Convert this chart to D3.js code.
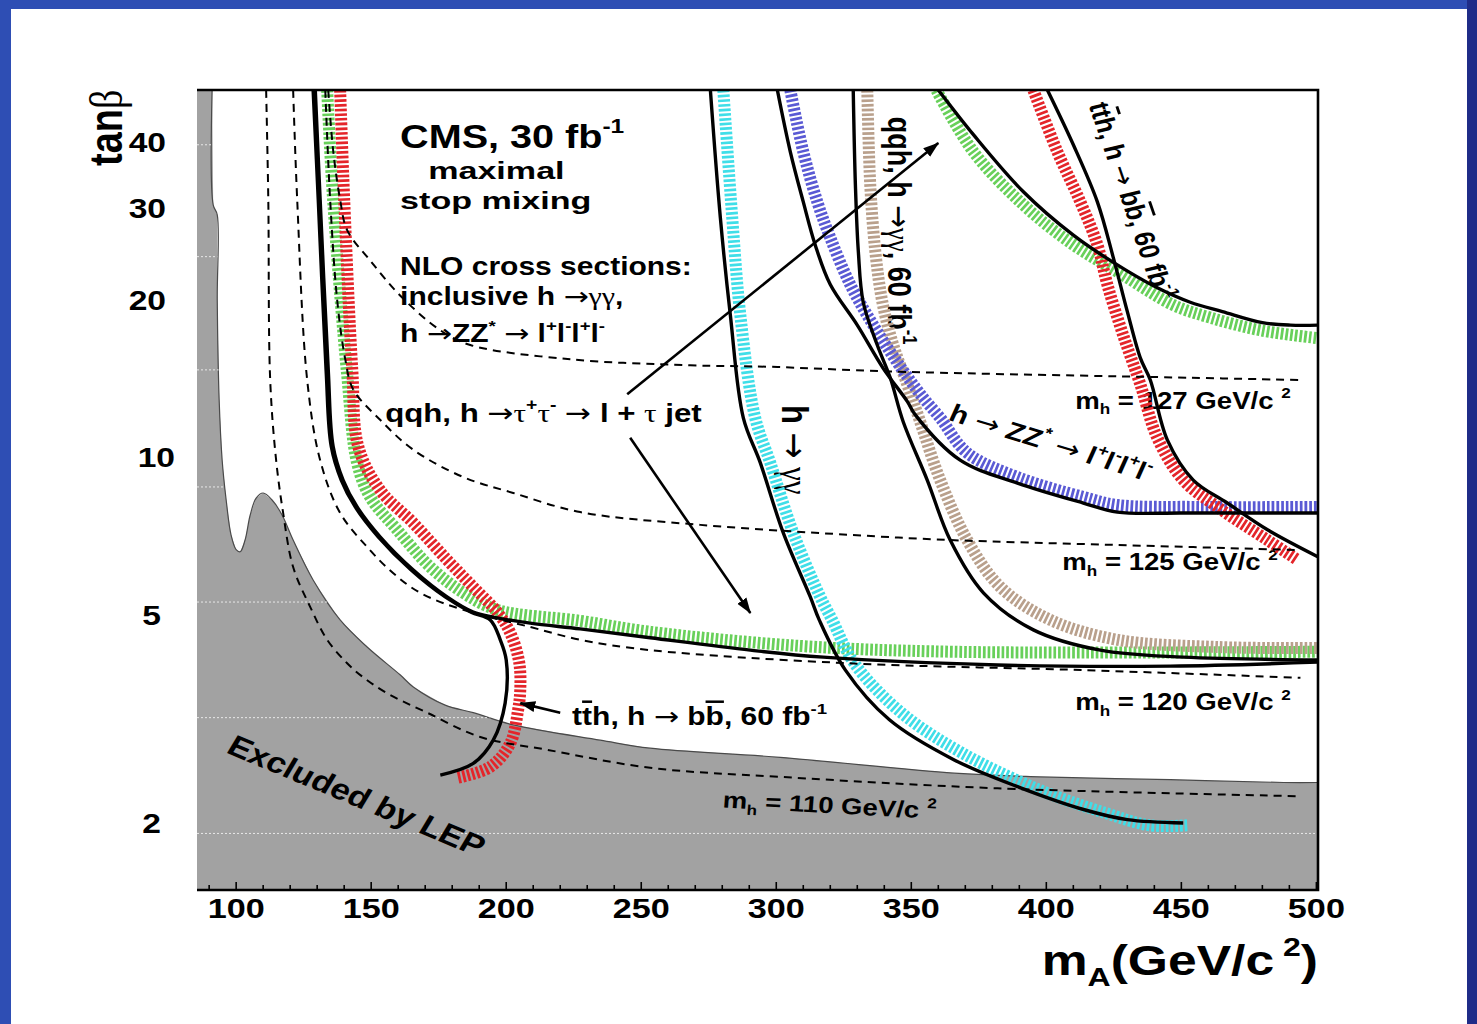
<!DOCTYPE html>
<html><head><meta charset="utf-8">
<script src="https://cdn.jsdelivr.net/npm/d3@7"></script>
<style>html,body{margin:0;padding:0;background:#2d4db2;}svg{display:block}</style>
</head><body>
<svg id="chart" width="1477" height="1024"></svg>
<script>
// ---------------- data (mA in GeV/c^2, tan beta) ----------------
const xTicks = [100,150,200,250,300,350,400,450,500];
const xMinorTicks = d3.range(90, 501, 10);
const yTicks = [2,5,10,20,30,40];
const lepGridTB = [39.6,24.2,14.7,8.78,5.29,3.18,1.91];

// LEP excluded region boundary
const lepMA = [91.1,91.5,93.0,93.0,93.7,94.8,96.3,98.1,100,101.5,103.3,105.2,107.4,110,113.3,117.0,121.1,128.5,138.5,148.5,160.7,165.6,177.4,187.8,202.6,234.8,253.3,301.5,365.9,397.8,445.9,487.8,500.7];
const lepTB = [50.4,30.4,29.1,20,12.9,9.9,8.29,7.11,6.66,6.60,6.95,7.76,8.36,8.55,8.29,7.76,6.95,5.83,4.89,4.34,3.84,3.64,3.36,3.25,3.08,2.88,2.78,2.67,2.49,2.45,2.42,2.39,2.39];

// m_h iso-contours (dashed)
const mh110MA = [111.1,111.9,112.6,114.8,117.4,121.1,127.4,133.7,141.1,147.0,155.9,170.7,190.4,215.2,253.3,301.5,381.9,494.1];
const mh110TB = [50.4,31.1,14.06,9.88,7.83,6.17,5.18,4.48,4.04,3.80,3.54,3.25,2.92,2.76,2.55,2.45,2.33,2.25];
const mh120MA = [121.1,122.6,126.3,131.1,138.5,148.5,158.1,168.1,184.1,208.9,227.4,253.3,327.0,414.1,494.1];
const mh120TB = [50.4,31.1,14.06,9.88,7.83,6.74,6.01,5.51,5.11,4.74,4.48,4.28,4.04,3.92,3.79];
const mh125MA = [133.0,134.8,137.4,140.4,143.3,153.3,165.6,184.1,202.6,227.4,271.9,327.4,364.4,426.3,494.1];
const mh125TB = [50.4,31.1,20,15.4,13.5,11.8,10.34,9.17,8.55,7.86,7.43,7.11,6.95,6.80,6.65];
const mh127MA = [134.1,135.9,138.5,141.1,149.6,160.7,175.6,186.7,223.7,268.1,297.8,342.2,453.3,493.7];
const mh127TB = [50.4,38.7,31.1,27.2,23.8,20.4,17.5,16.4,15.4,15.0,14.9,14.6,14.2,14.06];

// discovery contours: hatched bands and solid lines
const cyanMA = [280.4,283.7,286.7,292.2,297.8,306.3,316.3,320.7,328.9,346.3,368.9,397.8,421.9,438.1,452.6];
const cyanTB = [50.4,28.7,18.7,11.9,9.76,7.17,5.41,4.89,4.04,3.25,2.72,2.31,2.09,1.98,1.98];
const cyanLineMA = [275.6,279.3,283.0,287.8,294.1,302.6,312.6,315.9,325.6,341.9,365.9,390.0,414.1,430.0,450.7];
const cyanLineTB = [50.4,28.7,18.7,11.9,9.76,7.17,5.41,4.89,3.92,3.15,2.64,2.34,2.12,2.03,2.00];

const blueMA = [305.2,310.0,315.2,320.0,327.4,335.9,344.8,354.4,360.7,370.7,389.3,413.7,426.3,457.0,500.7];
const blueTB = [50.4,38.4,30.8,26.3,21.4,17.9,15.2,13.0,11.9,10.2,9.17,8.40,8.11,8.04,8.04];
const blueLineMA = [300.4,305.2,310.0,314.4,320.0,330.0,339.6,348.5,351.5,368.1,389.3,413.7,426.3,450.7,500.7];
const blueLineTB = [50.4,38.4,30.8,25.5,21.4,17.9,14.8,12.8,12.06,9.88,8.93,8.18,7.86,7.83,7.83];

const brownMA = [333.7,334.8,336.7,339.3,343.3,348.5,353.3,360.7,370.7,383.0,401.5,426.3,463.3,500.7];
const brownTB = [50.4,33.2,24.7,19.8,16.4,13.8,11.7,9.05,6.95,5.65,4.89,4.48,4.34,4.32];
const brownLineMA = [328.5,329.3,330.4,332.2,337.4,342.2,347.0,355.9,364.4,376.7,395.2,420.0,450.7,500.7];
const brownLineTB = [50.4,33.2,24.7,19.8,16.4,14.2,11.7,9.05,6.95,5.51,4.68,4.28,4.15,4.10];

const greenUpMA = [359.3,373.0,391.5,410.0,428.5,447.0,460.7,479.3,500.7];
const greenUpTB = [50.4,38.4,30.4,25.5,22.3,19.56,18.5,17.5,16.9];
const greenUpLineMA = [360.0,373.0,391.5,410.0,424.8,441.1,453.3,465.2,480.0,490.4,500.7];
const greenUpLineTB = [50.4,41.4,32.2,26.6,23.6,21.1,19.8,19.0,18.1,17.9,17.9];

const redUpMA = [395.2,404.1,412.6,418.9,422.6,428.5,434.8,441.1,450.7,463.3,481.9,493.0];
const redUpTB = [50.4,38.4,30.8,25.5,21.4,17.1,13.8,10.9,9.05,8.04,6.95,6.37];
const redUpLineMA = [400.4,410.0,418.9,424.8,430.0,434.8,438.5,444.8,454.4,467.0,481.9,500.7];
const redUpLineTB = [50.4,39.6,30.8,24.1,19.0,15.5,14.06,10.8,9.05,8.18,7.27,6.45];

const greenLowMA = [133.7,135.9,141.1,144.8,149.6,159.6,171.9,184.1,196.7,227.4,253.3,308.9,365.9,500.7];
const greenLowTB = [50.4,31.1,14.4,9.76,8.40,7.27,6.17,5.51,5.11,4.87,4.64,4.36,4.25,4.25];
const greenLowLineMA = [129.3,131.1,134.1,135.9,139.6,144.8,153.3,165.6,178.1,187.8,195.2,208.9,227.4,253.3,290.4,317.4,381.9,445.9,500.7];
const greenLowLineTB = [50.4,31.1,14.7,10.5,9.05,8.04,7.05,6.09,5.41,5.06,4.95,4.82,4.70,4.52,4.28,4.15,4.01,3.99,4.06];

const redLowMA = [138.5,140.0,143.0,145.2,153.3,165.6,178.1,187.8,196.7,201.5,204.8,205.2,204.4,201.5,194.1,181.9];
const redLowTB = [50.4,31.1,14.7,10.5,8.66,7.49,6.37,5.65,5.06,4.62,4.06,3.59,3.29,2.84,2.56,2.44];
const redLowLineMA = [128.5,130.4,133.3,135.2,138.9,144.1,152.6,164.8,177.4,187.0,194.1,197.8,200.0,199.6,195.2,187.8,175.6];
const redLowLineTB = [50.4,31.1,14.7,10.5,9.05,8.04,7.05,6.09,5.41,5.06,4.89,4.48,4.10,3.39,2.88,2.60,2.47];

// ---------------- drawing ----------------
const W = 1477, H = 1024;
const FONT = "'Liberation Sans', Arial, Helvetica, sans-serif";
const GREEK = "'Liberation Serif', 'DejaVu Serif', serif";
const ARROWF = "'DejaVu Sans', sans-serif";
const SX = 1.2; // horizontal stretch of the original lettering

const svg = d3.select('#chart');
const x = d3.scaleLinear().domain([85.5, 500.6]).range([197, 1318]);
const y = d3.scaleLog().domain([1.489, 50.4]).range([890, 90]);
const zip = (a, b) => a.map((v, i) => [v, b[i]]);
const line = d3.line().x(d => x(d[0])).y(d => y(d[1])).curve(d3.curveCatmullRom.alpha(0.5));

// page background
svg.append('rect').attr('width', W).attr('height', H).attr('fill', '#2e4eb4');
svg.append('rect').attr('x', 1467).attr('width', 10).attr('height', H).attr('fill', '#1f2c88');
svg.append('rect').attr('x', 11).attr('y', 9).attr('width', 1456).attr('height', H - 9).attr('fill', '#ffffff');

const defs = svg.append('defs');
defs.append('clipPath').attr('id', 'plotClip').append('rect')
  .attr('x', x.range()[0]).attr('y', y.range()[1])
  .attr('width', x.range()[1] - x.range()[0]).attr('height', y.range()[0] - y.range()[1]);
defs.append('marker').attr('id', 'head').attr('viewBox', '0 -6 16 12')
  .attr('refX', 15).attr('refY', 0).attr('markerWidth', 16).attr('markerHeight', 12)
  .attr('markerUnits', 'userSpaceOnUse').attr('orient', 'auto')
  .append('path').attr('d', 'M0,-5.5L16,0L0,5.5Z').attr('fill', '#000');

const plot = svg.append('g').attr('clip-path', 'url(#plotClip)');

// LEP excluded area
const [xd0, xd1] = x.domain(), [yd0, yd1] = y.domain();
const lepPts = [[xd0, yd1]].concat(zip(lepMA, lepTB), [[xd1, lepTB[lepTB.length - 1]], [xd1, yd0], [xd0, yd0]]);
const lepPoly = d3.line().x(d => x(d[0])).y(d => y(d[1])).curve(d3.curveLinear);
plot.append('path').attr('d', lepPoly(lepPts)).attr('fill', '#a2a2a2');
defs.append('clipPath').attr('id', 'lepClip').append('path').attr('d', lepPoly(lepPts));
plot.append('path').attr('d', line(zip(lepMA, lepTB))).attr('fill', 'none')
  .attr('stroke', '#4a4a4a').attr('stroke-width', 1.2);
plot.append('g').attr('clip-path', 'url(#lepClip)').selectAll('line').data(lepGridTB).join('line')
  .attr('x1', x.range()[0]).attr('x2', x.range()[1]).attr('y1', d => y(d)).attr('y2', d => y(d))
  .attr('stroke', '#e8e8e8').attr('stroke-width', 1).attr('stroke-dasharray', '2,2');

// rich text helper
function rich(parent, px, py, segs, size, rot = 0, anchor = 'start', sx = SX) {
  const t = parent.append('text')
    .attr('transform', `translate(${px},${py}) scale(${sx},1) rotate(${rot})`)
    .attr('font-family', FONT).attr('font-weight', 'bold').attr('font-size', size)
    .attr('text-anchor', anchor).attr('fill', '#000');
  let shift = 0;
  segs.forEach(seg => {
    const [s, type = ''] = Array.isArray(seg) ? seg : [seg];
    const ts = t.append('tspan').text(s);
    let target = 0;
    if (type.includes('sup')) { target = -0.45 * size; ts.attr('font-size', size * 0.62); }
    if (type.includes('sub')) { target = 0.25 * size; ts.attr('font-size', size * 0.62); }
    if (type.includes('gr')) ts.attr('font-family', GREEK).attr('font-weight', 'normal');
    if (type.includes('arr')) ts.attr('font-family', ARROWF).attr('font-weight', 'normal');
    if (type.includes('bar')) ts.style('text-decoration', 'overline');
    if (target !== shift) { ts.attr('dy', target - shift); shift = target; }
  });
  return t;
}

// annotations drawn under the curves
const ann = svg.append('g');
const annotations = [
  {ma: 160.7, tb: 39.0, size: 33, segs: ['CMS, 30 fb', ['-1', 'sup']]},
  {ma: 171.1, tb: 34.0, size: 24, sx: 1.42, segs: ['maximal']},
  {ma: 160.7, tb: 29.9, size: 24, sx: 1.42, segs: ['stop mixing']},
  {ma: 160.7, tb: 22.3, size: 25, segs: ['NLO cross sections:']},
  {ma: 160.7, tb: 19.56, size: 25, segs: ['inclusive h  ', ['→', 'arr'], ['γγ', 'gr'], ',']},
  {ma: 160.7, tb: 16.6, size: 25, segs: ['h ', ['→', 'arr'], 'ZZ', ['*', 'sup'], ' ', ['→', 'arr'], ' l', ['+', 'sup'], 'l', ['-', 'sup'], 'l', ['+', 'sup'], 'l', ['-', 'sup']]},
  {ma: 155.2, tb: 11.7, size: 26, segs: ['qqh, h  ', ['→', 'arr'], ['τ', 'gr'], ['+', 'sup'], ['τ', 'gr'], ['-', 'sup'], '  ', ['→', 'arr'], ' l + ', ['τ', 'gr'], ' jet']},
  {ma: 410.7, tb: 12.4, size: 23, segs: ['m', ['h', 'sub'], ' = 127 GeV/c ', ['2', 'sup']]},
  {ma: 405.9, tb: 6.09, size: 23, segs: ['m', ['h', 'sub'], ' = 125 GeV/c ', ['2', 'sup']]},
  {ma: 410.7, tb: 3.29, size: 23, segs: ['m', ['h', 'sub'], ' = 120 GeV/c ', ['2', 'sup']]},
  {ma: 280.0, tb: 2.14, size: 23, rot: 3.6, segs: ['m', ['h', 'sub'], ' = 110 GeV/c ', ['2', 'sup']]},
  {ma: 224.4, tb: 3.08, size: 25, segs: ['t', ['t', 'bar'], 'h, h ', ['→', 'arr'], ' b', ['b', 'bar'], ', 60 fb', ['-1', 'sup']]},
  {ma: 95.9, tb: 2.73, size: 29, rot: 26.5, segs: ['Excluded by LEP']},
  {ma: 302.2, tb: 12.6, size: 31, rot: 90, segs: ['h ', ['→', 'arr'], ' ', ['γγ', 'gr']]},
  {ma: 341.5, tb: 44.8, size: 27, rot: 90, segs: ['qqh, h ', ['→', 'arr'], ['γγ', 'gr'], ', 60 fb', ['-1', 'sup']]},
  {ma: 415.6, tb: 47.2, size: 24, rot: 74, segs: ['t', ['t', 'bar'], 'h, h ', ['→', 'arr'], ' b', ['b', 'bar'], ', 60 fb', ['-1', 'sup']]},
  {ma: 363.3, tb: 11.8, size: 25, rot: 20.4, segs: ['h ', ['→', 'arr'], ' ZZ', ['*', 'sup'], ' ', ['→', 'arr'], ' l', ['+', 'sup'], 'l', ['-', 'sup'], 'l', ['+', 'sup'], 'l', ['-', 'sup']]}
];
annotations.forEach(a => rich(ann, x(a.ma), y(a.tb), a.segs, a.size, a.rot || 0, 'start', a.sx || SX));

// hatched bands
const bands = [
  {ma: greenLowMA, tb: greenLowTB, color: '#68d05a'},
  {ma: redLowMA, tb: redLowTB, color: '#e4252a'},
  {ma: cyanMA, tb: cyanTB, color: '#3fdee8'},
  {ma: brownMA, tb: brownTB, color: '#b9a08c'},
  {ma: blueMA, tb: blueTB, color: '#5a5ad4'},
  {ma: greenUpMA, tb: greenUpTB, color: '#68d05a'},
  {ma: redUpMA, tb: redUpTB, color: '#e4252a'}
];
const curves = svg.append('g').attr('clip-path', 'url(#plotClip)');
curves.selectAll('path.band').data(bands).join('path').attr('class', 'band')
  .attr('d', d => line(zip(d.ma, d.tb))).attr('fill', 'none')
  .attr('stroke', d => d.color).attr('stroke-width', 12).attr('stroke-dasharray', '2.7,2');

// solid discovery lines
const solids = [
  [greenLowLineMA, greenLowLineTB], [redLowLineMA, redLowLineTB], [cyanLineMA, cyanLineTB],
  [brownLineMA, brownLineTB], [blueLineMA, blueLineTB], [greenUpLineMA, greenUpLineTB], [redUpLineMA, redUpLineTB]
];
curves.selectAll('path.solid').data(solids).join('path').attr('class', 'solid')
  .attr('d', d => line(zip(d[0], d[1]))).attr('fill', 'none')
  .attr('stroke', '#000').attr('stroke-width', 3.4);

// m_h dashed contours
const dashed = [[mh110MA, mh110TB], [mh120MA, mh120TB], [mh125MA, mh125TB], [mh127MA, mh127TB]];
curves.selectAll('path.mh').data(dashed).join('path').attr('class', 'mh')
  .attr('d', d => line(zip(d[0], d[1]))).attr('fill', 'none')
  .attr('stroke', '#000').attr('stroke-width', 2).attr('stroke-dasharray', '8,6');

// pointer arrows
const arrows = [
  {from: [244.8, 13.2], to: [360.0, 39.9]},
  {from: [245.9, 10.9], to: [290.4, 5.04]},
  {from: [220.0, 3.25], to: [205.2, 3.39]}
];
curves.selectAll('line.arrow').data(arrows).join('line').attr('class', 'arrow')
  .attr('x1', d => x(d.from[0])).attr('y1', d => y(d.from[1]))
  .attr('x2', d => x(d.to[0])).attr('y2', d => y(d.to[1]))
  .attr('stroke', '#000').attr('stroke-width', 2.6).attr('marker-end', 'url(#head)');

// frame (top, right, bottom)
const [px0, px1] = x.range(), py0 = y.range()[0], py1 = y.range()[1];
svg.append('path').attr('d', `M${px0},${py1}H${px1}V${py0}H${px0}`)
  .attr('fill', 'none').attr('stroke', '#000').attr('stroke-width', 2.6);

// x ticks (inside)
svg.append('g').selectAll('line').data(xMinorTicks).join('line')
  .attr('x1', d => x(d)).attr('x2', d => x(d)).attr('y1', py0).attr('y2', d => py0 - (d % 50 === 0 ? 8 : 5))
  .attr('stroke', '#000').attr('stroke-width', 1.6);
const xl = svg.append('g');
xTicks.forEach(v => rich(xl, x(v), 918, [String(v)], 28.5, 0, 'middle'));

// y tick labels
const yl = svg.append('g');
const yLabelRight = v => (v === 10 ? 175 : v < 10 ? 161 : 166);
yTicks.forEach(v => rich(yl, yLabelRight(v), y(v) + 10, [String(v)], 28, 0, 'end'));

// axis titles
rich(svg, 1318, 975, ['m', ['A', 'sub'], '(GeV/c', [' 2', 'sup'], ')'], 43, 0, 'end');
rich(svg, 122, 166, ['tan', ['β', 'gr']], 38, -90, 'start');
</script>
</body></html>
